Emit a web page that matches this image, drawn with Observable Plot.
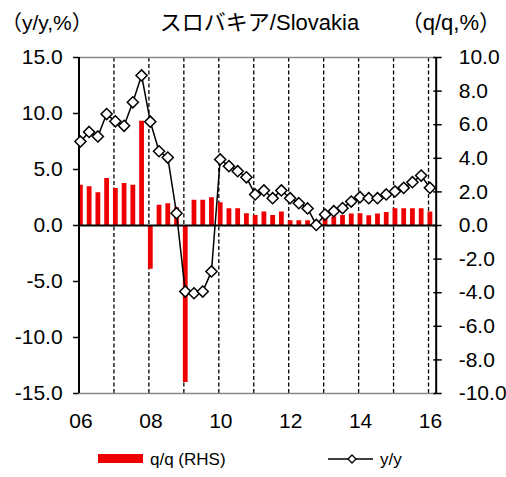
<!DOCTYPE html>
<html>
<head>
<meta charset="utf-8">
<script src="https://cdn.jsdelivr.net/npm/d3@7"></script>
<script src="https://cdn.jsdelivr.net/npm/@observablehq/plot@0.6"></script>
<style>
  body { margin: 0; background: #fff; }
  #wrap { position: relative; width: 506px; height: 477px; overflow: hidden;
          font-family: "Liberation Sans", Arial, "Noto Sans CJK JP", sans-serif; color: #000; }
  #chart { position: absolute; left: 0; top: 0; }
  #overlay { position: absolute; left: 0; top: 0; pointer-events: none; }
</style>
</head>
<body>
<div id="wrap">
  <div id="chart"></div>
  <svg id="overlay" width="506" height="477" font-family='"Liberation Sans", Arial, "Noto Sans CJK JP", sans-serif'>
    <text x="1" y="30" font-size="21">（y/y,%）</text>
    <text x="259.5" y="30" font-size="22" text-anchor="middle">スロバキア/Slovakia</text>
    <text x="501" y="30" font-size="22" text-anchor="end">（q/q,%）</text>
    <rect x="98" y="454" width="45" height="9" fill="#ee0000"></rect>
    <text x="150" y="465" font-size="17">q/q (RHS)</text>
    <line x1="328" x2="373" y1="459" y2="459" stroke="#000" stroke-width="1.5"></line>
    <path d="M352,455 L356,459 L352,463 L348,459 Z" fill="#fff" stroke="#000" stroke-width="1.3"></path>
    <text x="380" y="465" font-size="17">y/y</text>
  </svg>
</div>
<script>
// Quarters 2006Q1 .. 2016Q1
const quarters = [
  "2006Q1","2006Q2","2006Q3","2006Q4",
  "2007Q1","2007Q2","2007Q3","2007Q4",
  "2008Q1","2008Q2","2008Q3","2008Q4",
  "2009Q1","2009Q2","2009Q3","2009Q4",
  "2010Q1","2010Q2","2010Q3","2010Q4",
  "2011Q1","2011Q2","2011Q3","2011Q4",
  "2012Q1","2012Q2","2012Q3","2012Q4",
  "2013Q1","2013Q2","2013Q3","2013Q4",
  "2014Q1","2014Q2","2014Q3","2014Q4",
  "2015Q1","2015Q2","2015Q3","2015Q4",
  "2016Q1"
];
// q/q growth, % (right axis)
const qoq = [
  2.4, 2.3, 1.95, 2.8,
  2.2, 2.5, 2.4, 6.2,
  -2.6, 1.2, 1.3, 1.05,
  -9.35, 1.5, 1.5, 1.65,
  1.35, 1.0, 1.0, 0.7,
  0.6, 0.8, 0.6, 0.8,
  0.28, 0.28, 0.28, 0.2,
  0.4, 0.5, 0.6, 0.68,
  0.7, 0.58, 0.68, 0.78,
  1.0, 1.0, 1.0, 1.0,
  0.8
];
// y/y growth, % (left axis)
const yoy = [
  7.5, 8.35, 7.95, 9.95,
  9.3, 8.9, 11.0, 13.4,
  9.27, 6.63, 6.07, 1.1,
  -5.9, -6.05, -5.9, -4.1,
  5.9, 5.3, 4.85, 4.3,
  2.77, 3.13, 2.44, 3.13,
  2.44, 1.99, 1.52, 0.05,
  0.98, 1.28, 1.55, 2.14,
  2.53, 2.44, 2.44, 2.77,
  3.04, 3.36, 3.87, 4.46,
  3.36
];
const leftTicks = [-15, -10, -5, 0, 5, 10, 15];
const rightTicks = [-10, -8, -6, -4, -2, 0, 2, 4, 6, 8, 10];
const gridYears = [2007, 2008, 2009, 2010, 2011, 2012, 2013, 2014, 2015, 2016];
const labelYears = [2006, 2008, 2010, 2012, 2014, 2016];
const yearLabels = ["06", "08", "10", "12", "14", "16"];
const xDomain = [2006, 2016.22];
const yDomain = [-15, 15];
const ratio = 1.5; // left units per right unit (30 / 20)

const data = quarters.map((q, i) => ({
  t: +q.slice(0, 4) + (+q.slice(5) - 1) * 0.25,
  qq: qoq[i],
  yy: yoy[i]
}));

const red = "#ee0000";

const chart = Plot.plot({
  width: 506,
  height: 440,
  marginTop: 57,
  marginBottom: 47,
  marginLeft: 78.5,
  marginRight: 70.3,
  style: { fontFamily: '"Liberation Sans", Arial, sans-serif', fontSize: "21px", color: "#000", background: "transparent" },
  x: { domain: xDomain, label: null },
  y: { domain: yDomain, label: null },
  marks: [
    Plot.ruleX(gridYears, { y1: yDomain[0], y2: yDomain[1], stroke: "#000", strokeWidth: 1.3, strokeDasharray: "4,2.5" }),
    Plot.ruleX(data, { x: "t", y1: 0, y2: d => d.qq * ratio, stroke: red, strokeWidth: 4.8, dx: 1.4, clip: true }),
    Plot.ruleY([yDomain[1], yDomain[0]], { stroke: "#888", strokeWidth: 1.5 }),
    Plot.ruleY([0], { stroke: "#000", strokeWidth: 2 }),
    Plot.ruleX([xDomain[0], xDomain[1]], { y1: yDomain[0], y2: yDomain[1], stroke: "#000", strokeWidth: 2 }),
    Plot.line(data, { x: "t", y: "yy", stroke: "#000", strokeWidth: 1.5, dx: 1.4 }),
    Plot.dot(data, { x: "t", y: "yy", symbol: "diamond2", r: 5, fill: "#fff", stroke: "#000", strokeWidth: 1.5, dx: 1.4 }),
    Plot.axisY({ anchor: "left", ticks: leftTicks, tickFormat: d => d.toFixed(1), tickSize: 5.4, tickPadding: 11, strokeWidth: 1.5 }),
    Plot.axisY({ anchor: "right", ticks: rightTicks.map(v => v * ratio), tickFormat: d => (d / ratio).toFixed(1),
                 tickSize: 8.4, dx: -3.4, tickPadding: 17.5, strokeWidth: 1.5, textAnchor: "start" }),
    Plot.axisX({ ticks: labelYears, tickFormat: (d, i) => yearLabels[labelYears.indexOf(d)], tickSize: 0, tickPadding: 20, dx: 2 })
  ]
});
document.getElementById("chart").appendChild(chart);
</script>
</body>
</html>
